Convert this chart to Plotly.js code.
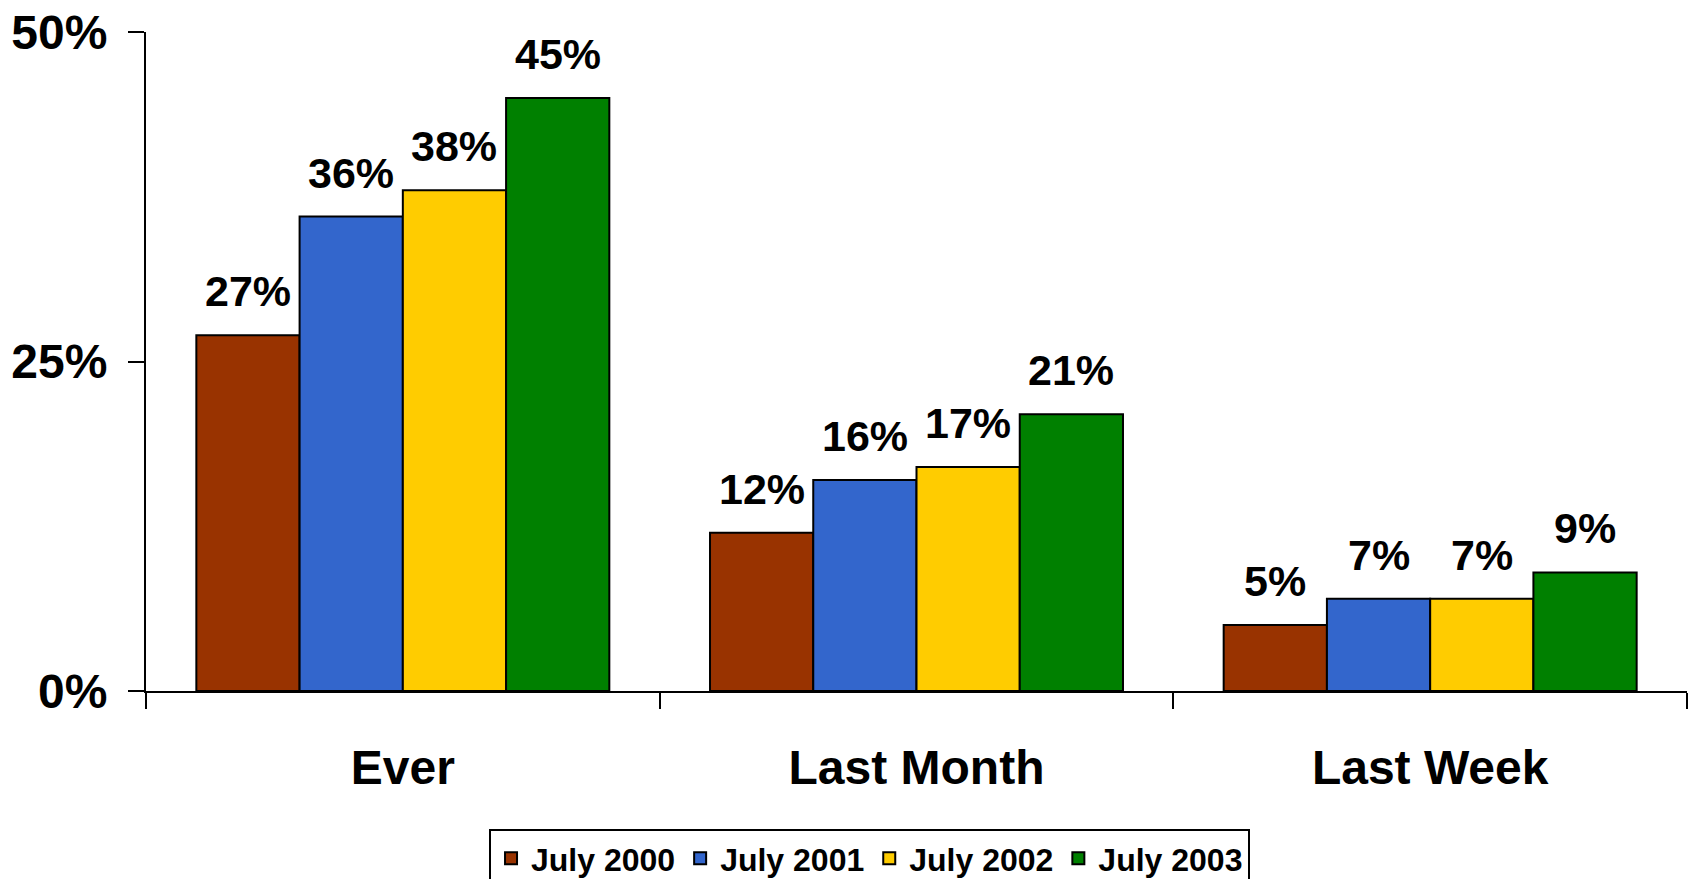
<!DOCTYPE html>
<html><head><meta charset="utf-8">
<script src="https://cdn.plot.ly/plotly-3.0.1.min.js"></script>
<style>html,body{margin:0;padding:0;background:#fff}#chart{width:1692px;height:879px}</style>
</head><body><div id="chart"></div>
<script>
const categories = ["Ever", "Last Month", "Last Week"];
const seriesNames = ["July 2000", "July 2001", "July 2002", "July 2003"];
const july2000 = [27, 12, 5];
const july2001 = [36, 16, 7];
const july2002 = [38, 17, 7];
const july2003 = [45, 21, 9];
const colors = ["#993300", "#3366CC", "#FFCC00", "#008000"];
const yTickVals = [0, 25, 50];
const yTickText = ["0%", "25%", "50%"];

const allSeries = [july2000, july2001, july2002, july2003];
const FONT = "Liberation Sans, Arial, sans-serif";
const W = 1692, H = 879;
const margin = {l: 146, r: 5, t: 32, b: 188, autoexpand: false};
const bargap = 0.196;

const traces = allSeries.map((vals, j) => ({
  type: "bar", name: seriesNames[j], x: categories, y: vals,
  marker: {color: colors[j], line: {color: "#000", width: 2}},
  hoverinfo: "skip"
}));

const plotW = W - margin.l - margin.r;
const barPx = plotW / categories.length * (1 - bargap) / allSeries.length;
const annotations = [];
allSeries.forEach((vals, j) => {
  vals.forEach((v, i) => {
    annotations.push({
      x: categories[i], y: v, xref: "x", yref: "y",
      text: "<b>" + v + "%</b>", showarrow: false,
      yanchor: "bottom", xanchor: "center",
      xshift: (j - (allSeries.length - 1) / 2) * barPx, yshift: 18,
      font: {family: FONT, size: 43, color: "#000"}
    });
  });
});

const layout = {
  width: W, height: H, margin: margin,
  paper_bgcolor: "#fff", plot_bgcolor: "#fff",
  barmode: "group", bargap: bargap, bargroupgap: 0,
  showlegend: true,
  legend: {orientation: "h", x: 0.2226, xanchor: "left", y: -0.2094, yanchor: "top",
    bordercolor: "#000", borderwidth: 2, bgcolor: "#fff",
    font: {family: FONT, size: 32, color: "#000", weight: "bold"},
    traceorder: "normal"},
  xaxis: {type: "category", showline: true, linecolor: "#000", linewidth: 2,
    ticks: "outside", tickson: "boundaries", ticklen: 16, tickwidth: 2, tickcolor: "#000",
    showgrid: false, zeroline: false, automargin: false,
    tickfont: {family: FONT, size: 48, color: "#000", weight: "bold"},
    ticklabelstandoff: 33},
  yaxis: {range: [0, 50], tickvals: yTickVals, ticktext: yTickText,
    showline: true, linecolor: "#000", linewidth: 2,
    ticks: "outside", ticklen: 16, tickwidth: 2, tickcolor: "#000",
    showgrid: false, zeroline: false, automargin: false,
    tickfont: {family: FONT, size: 48, color: "#000", weight: "bold"},
    ticklabelstandoff: 11},
  annotations: annotations
};
Plotly.newPlot("chart", traces, layout, {staticPlot: true});
</script></body></html>
